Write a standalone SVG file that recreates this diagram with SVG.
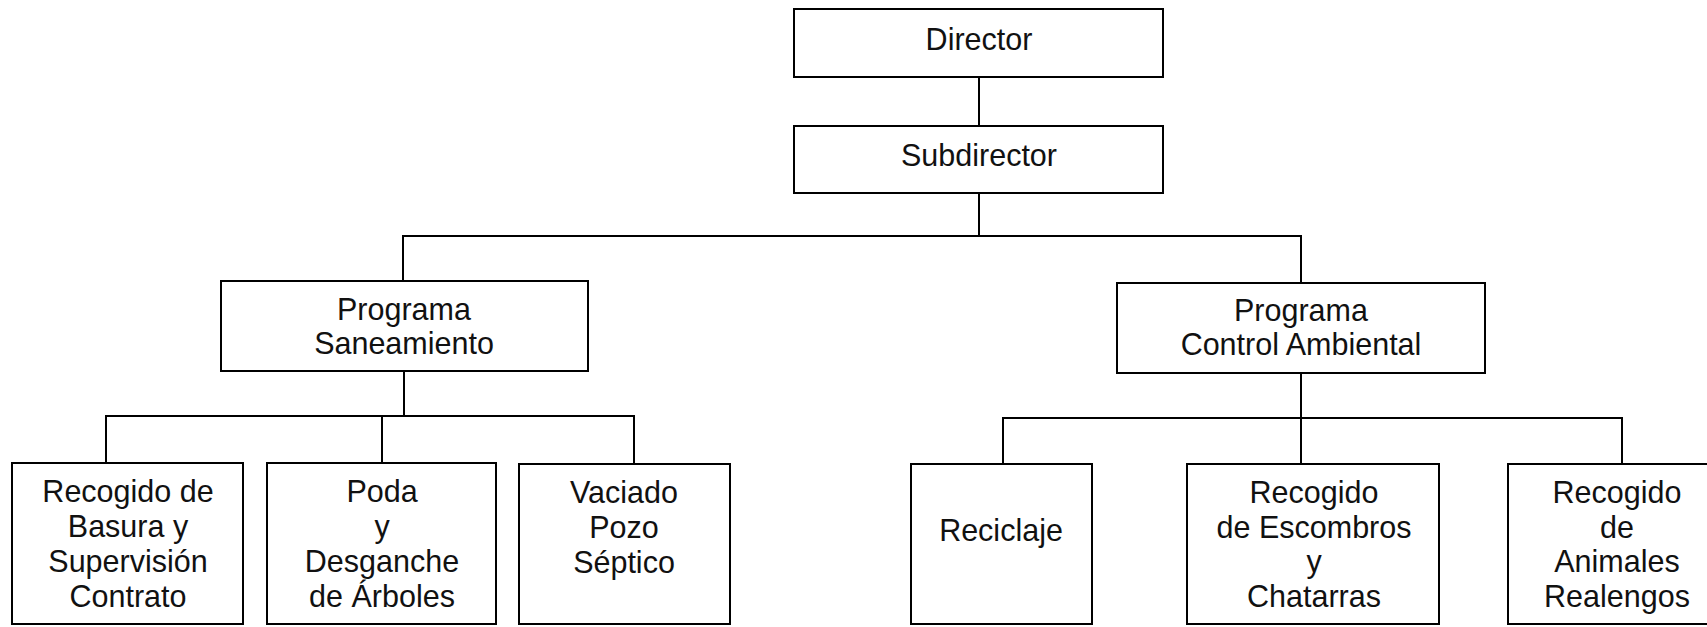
<svg xmlns="http://www.w3.org/2000/svg" width="1707" height="627" viewBox="0 0 1707 627">
  <style>
    .box { fill: #fff; stroke: #000; stroke-width: 2; }
    .link { fill: none; stroke: #000; stroke-width: 2; }
    text { font-family: "Liberation Sans", Arial, sans-serif; font-size: 30.5px; fill: #111; text-anchor: middle; }
  </style>
  <rect x="0" y="0" width="1707" height="627" fill="#fff"/>

  <!-- connectors -->
  <g id="connectors">
    <path class="link" d="M979 77V126"/>
    <path class="link" d="M979 193V236"/>
    <path class="link" d="M403 281V236H1301V283"/>
    <path class="link" d="M404 371V416"/>
    <path class="link" d="M106 463V416H634V464"/>
    <path class="link" d="M382 416V463"/>
    <path class="link" d="M1301 373V418"/>
    <path class="link" d="M1003 464V418H1622V464"/>
    <path class="link" d="M1301 418V464"/>
  </g>

  <g id="director">
    <rect class="box" x="794" y="9" width="369" height="68"/>
    <text x="979" y="50">Director</text>
  </g>

  <g id="subdirector">
    <rect class="box" x="794" y="126" width="369" height="67"/>
    <text x="979" y="166">Subdirector</text>
  </g>

  <g id="programa-saneamiento">
    <rect class="box" x="221" y="281" width="367" height="90"/>
    <text x="404" y="320">Programa</text>
    <text x="404" y="354">Saneamiento</text>
  </g>

  <g id="programa-control-ambiental">
    <rect class="box" x="1117" y="283" width="368" height="90"/>
    <text x="1301" y="321">Programa</text>
    <text x="1301" y="355">Control Ambiental</text>
  </g>

  <g id="recogido-basura">
    <rect class="box" x="12" y="463" width="231" height="161"/>
    <text x="128" y="502">Recogido de</text>
    <text x="128" y="537">Basura y</text>
    <text x="128" y="572">Supervisión</text>
    <text x="128" y="607">Contrato</text>
  </g>

  <g id="poda">
    <rect class="box" x="267" y="463" width="229" height="161"/>
    <text x="382" y="502">Poda</text>
    <text x="382" y="537">y</text>
    <text x="382" y="572">Desganche</text>
    <text x="382" y="607">de Árboles</text>
  </g>

  <g id="vaciado-pozo">
    <rect class="box" x="519" y="464" width="211" height="160"/>
    <text x="624" y="503">Vaciado</text>
    <text x="624" y="538">Pozo</text>
    <text x="624" y="573">Séptico</text>
  </g>

  <g id="reciclaje">
    <rect class="box" x="911" y="464" width="181" height="160"/>
    <text x="1001" y="541">Reciclaje</text>
  </g>

  <g id="recogido-escombros">
    <rect class="box" x="1187" y="464" width="252" height="160"/>
    <text x="1314" y="503">Recogido</text>
    <text x="1314" y="538">de Escombros</text>
    <text x="1314" y="572">y</text>
    <text x="1314" y="607">Chatarras</text>
  </g>

  <g id="recogido-animales">
    <rect class="box" x="1508" y="464" width="218" height="160"/>
    <text x="1617" y="503">Recogido</text>
    <text x="1617" y="538">de</text>
    <text x="1617" y="572">Animales</text>
    <text x="1617" y="607">Realengos</text>
  </g>
</svg>
